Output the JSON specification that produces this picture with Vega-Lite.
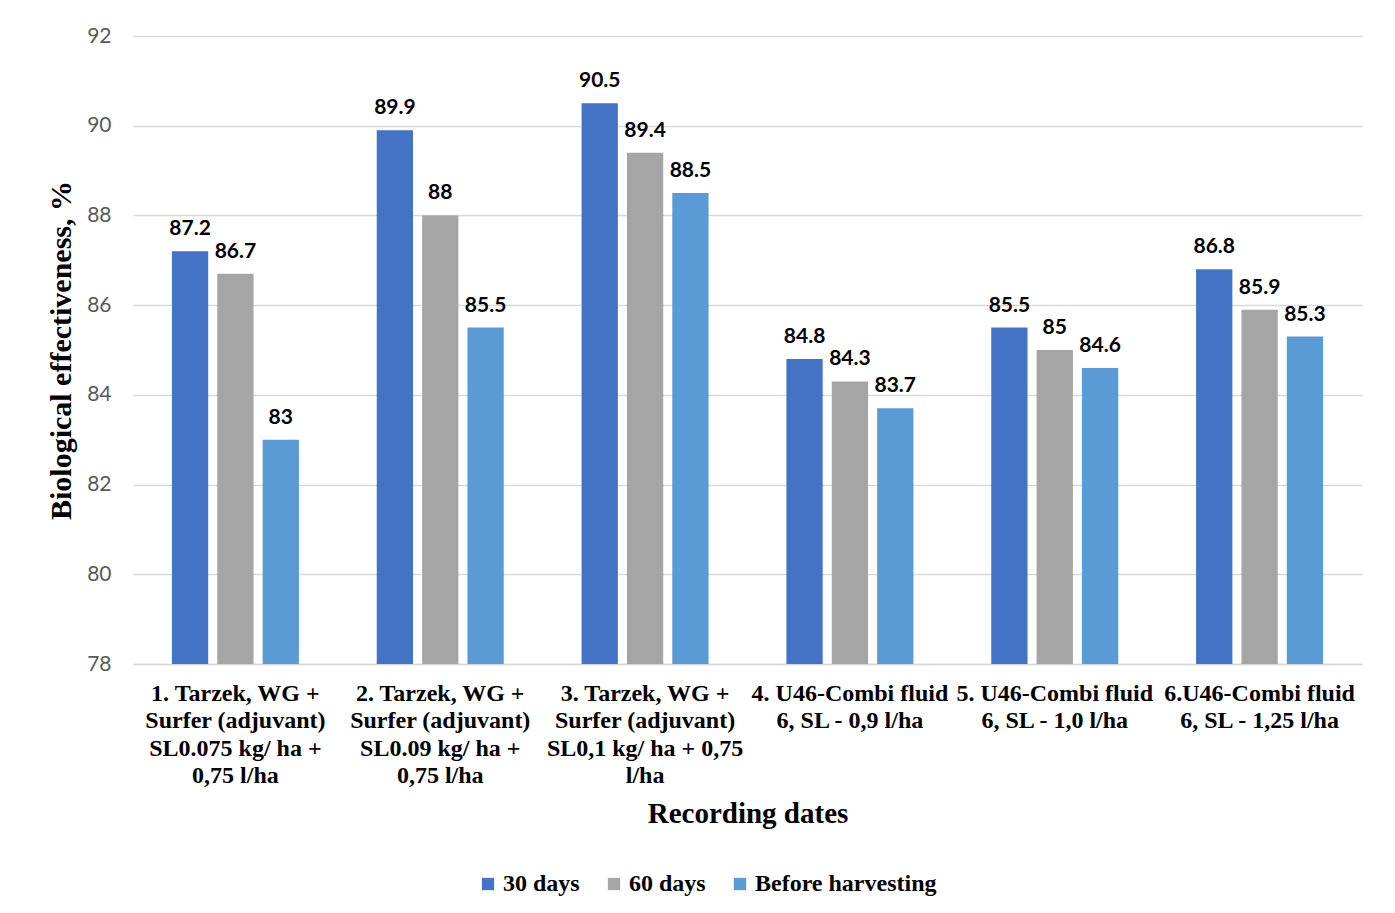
{
  "$schema": "https://vega.github.io/schema/vega-lite/v6.json",
  "width": 1229,
  "height": 628,
  "autosize": "none",
  "padding": {"left": 133, "top": 36, "right": 33, "bottom": 249},
  "background": "white",
  "data": {
    "values": [
      {"cat": "1. Tarzek, WG +|Surfer (adjuvant)|SL0.075 kg/ ha +|0,75 l/ha", "series": "30 days", "value": 87.2},
      {"cat": "1. Tarzek, WG +|Surfer (adjuvant)|SL0.075 kg/ ha +|0,75 l/ha", "series": "60 days", "value": 86.7},
      {"cat": "1. Tarzek, WG +|Surfer (adjuvant)|SL0.075 kg/ ha +|0,75 l/ha", "series": "Before harvesting", "value": 83},
      {"cat": "2. Tarzek, WG +|Surfer (adjuvant)|SL0.09 kg/ ha +|0,75 l/ha", "series": "30 days", "value": 89.9},
      {"cat": "2. Tarzek, WG +|Surfer (adjuvant)|SL0.09 kg/ ha +|0,75 l/ha", "series": "60 days", "value": 88},
      {"cat": "2. Tarzek, WG +|Surfer (adjuvant)|SL0.09 kg/ ha +|0,75 l/ha", "series": "Before harvesting", "value": 85.5},
      {"cat": "3. Tarzek, WG +|Surfer (adjuvant)|SL0,1 kg/ ha + 0,75|l/ha", "series": "30 days", "value": 90.5},
      {"cat": "3. Tarzek, WG +|Surfer (adjuvant)|SL0,1 kg/ ha + 0,75|l/ha", "series": "60 days", "value": 89.4},
      {"cat": "3. Tarzek, WG +|Surfer (adjuvant)|SL0,1 kg/ ha + 0,75|l/ha", "series": "Before harvesting", "value": 88.5},
      {"cat": "4. U46-Combi fluid|6, SL - 0,9 l/ha", "series": "30 days", "value": 84.8},
      {"cat": "4. U46-Combi fluid|6, SL - 0,9 l/ha", "series": "60 days", "value": 84.3},
      {"cat": "4. U46-Combi fluid|6, SL - 0,9 l/ha", "series": "Before harvesting", "value": 83.7},
      {"cat": "5. U46-Combi fluid|6, SL - 1,0 l/ha", "series": "30 days", "value": 85.5},
      {"cat": "5. U46-Combi fluid|6, SL - 1,0 l/ha", "series": "60 days", "value": 85},
      {"cat": "5. U46-Combi fluid|6, SL - 1,0 l/ha", "series": "Before harvesting", "value": 84.6},
      {"cat": "6.U46-Combi fluid|6, SL - 1,25 l/ha", "series": "30 days", "value": 86.8},
      {"cat": "6.U46-Combi fluid|6, SL - 1,25 l/ha", "series": "60 days", "value": 85.9},
      {"cat": "6.U46-Combi fluid|6, SL - 1,25 l/ha", "series": "Before harvesting", "value": 85.3}
    ]
  },
  "encoding": {
    "x": {
      "field": "cat", "type": "nominal", "sort": null,
      "scale": {"paddingInner": 0.38, "paddingOuter": 0.19},
      "axis": {
        "title": "Recording dates",
        "titleFont": "Liberation Serif", "titleFontSize": 29, "titleFontWeight": "bold", "titleColor": "black",
        "titlePadding": 12,
        "labelExpr": "split(datum.label, '|')",
        "labelAngle": 0, "labelFont": "Liberation Serif", "labelFontSize": 24, "labelFontWeight": "bold",
        "labelColor": "black", "labelLineHeight": 27.5, "labelPadding": 17, "labelLimit": 0,
        "ticks": false, "domain": true, "domainColor": "#D9D9D9", "domainWidth": 1.5, "grid": false
      }
    },
    "xOffset": {"field": "series", "type": "nominal", "scale": {"paddingInner": 0.2, "paddingOuter": 0}},
    "y": {
      "field": "value", "type": "quantitative",
      "scale": {"domain": [78, 92], "nice": false, "zero": false},
      "axis": {
        "title": "Biological effectiveness, %",
        "titleFont": "Liberation Serif", "titleFontSize": 30, "titleFontWeight": "bold", "titleColor": "black",
        "titlePadding": 10,
        "values": [78, 80, 82, 84, 86, 88, 90, 92],
        "labelFont": "Lato", "labelFontSize": 21, "labelColor": "#595959", "labelPadding": 22,
        "ticks": false, "domain": false, "grid": true, "gridColor": "#D9D9D9", "gridWidth": 1.5
      }
    }
  },
  "layer": [
    {
      "mark": {"type": "bar", "clip": true},
      "encoding": {
        "color": {
          "field": "series", "type": "nominal",
          "scale": {"domain": ["30 days", "60 days", "Before harvesting"], "range": ["#4472C4", "#A5A5A5", "#5B9BD5"]},
          "legend": {
            "title": null, "orient": "none", "direction": "horizontal", "legendX": 343, "legendY": 836,
            "symbolType": "square", "symbolSize": 150, "symbolStrokeWidth": 0,
            "labelFont": "Liberation Serif", "labelFontSize": 24, "labelFontWeight": "bold", "labelColor": "black",
            "labelLimit": 400, "labelOffset": 3, "columnPadding": 22
          }
        }
      }
    },
    {
      "mark": {"type": "text", "font": "Lato", "fontSize": 21, "fontWeight": "bold", "color": "black", "baseline": "alphabetic", "dy": -16},
      "encoding": {
        "text": {"field": "value", "type": "quantitative", "format": ""}
      }
    }
  ],
  "config": {"view": {"stroke": null}}
}
